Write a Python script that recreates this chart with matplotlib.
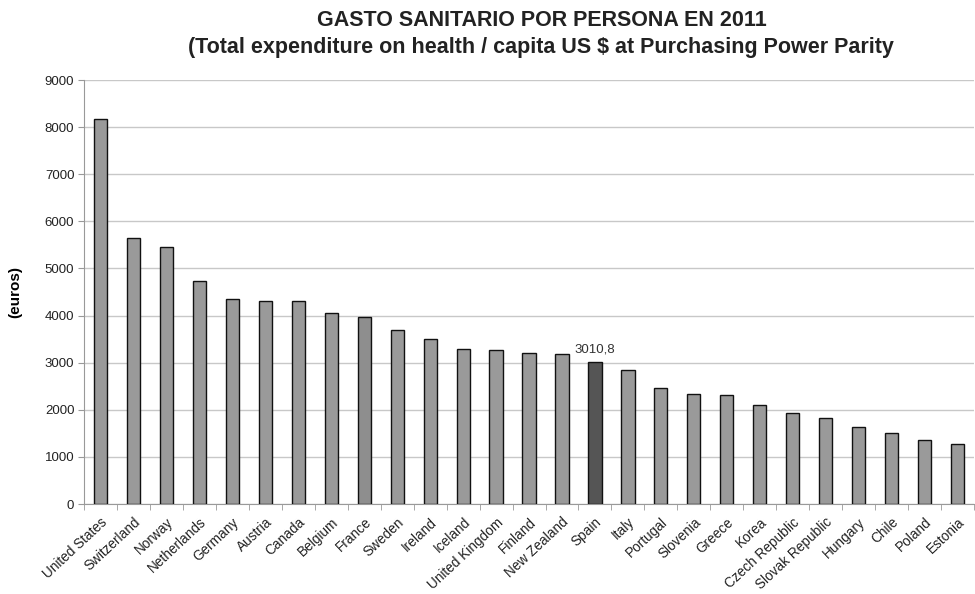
import matplotlib
matplotlib.use("Agg")
import matplotlib.pyplot as plt
import numpy as np

countries = ["United States", "Switzerland", "Norway", "Netherlands", "Germany", "Austria",
             "Canada", "Belgium", "France", "Sweden", "Ireland", "Iceland", "United Kingdom",
             "Finland", "New Zealand", "Spain", "Italy", "Portugal", "Slovenia", "Greece",
             "Korea", "Czech Republic", "Slovak Republic", "Hungary", "Chile", "Poland", "Estonia"]
values = [8175, 5648, 5463, 4741, 4352, 4317, 4310, 4062, 3963, 3694, 3510, 3298, 3277,
          3213, 3178, 3010.8, 2852, 2470, 2328, 2321, 2095, 1925, 1826, 1635, 1507, 1352, 1281]
yticks = list(range(0, 10000, 1000))
highlight = "Spain"
highlight_label = "3010,8"

plt.rcParams['font.family'] = ['Liberation Sans', 'DejaVu Sans']

fig = plt.figure(figsize=(9.75, 5.94), dpi=100)
ax = fig.add_axes([0.0862, 0.1515, 0.9128, 0.7138])

x = np.arange(len(countries))
colors = ["#555555" if c == highlight else ("#8e8e8e" if c == "France" else "#9a9a9a") for c in countries]
ax.bar(x, values, width=0.4, color=colors, edgecolor="#111111", linewidth=1.0, zorder=3)

ax.set_xlim(-0.5, len(countries) - 0.5)
ax.set_ylim(0, 9000)
ax.set_yticks(yticks)
ax.set_yticklabels([str(t) for t in yticks], fontsize=9.5, color="#222222")
ax.yaxis.grid(True, color="#c8c8c8", linewidth=1.0, zorder=0)
ax.set_axisbelow(True)

ax.set_xticks(x)
ax.set_xticklabels(countries, rotation=43, ha="right", rotation_mode="anchor", fontsize=9.8, color="#222222")
ax.tick_params(axis="x", length=0, pad=8)
ax.set_xticks(np.arange(-0.5, len(countries), 1), minor=True)
ax.tick_params(axis="x", which="minor", length=4, color="#999999", direction="out")
ax.tick_params(axis="y", length=4, color="#999999", direction="out", pad=3)

for s in ["top", "right"]:
    ax.spines[s].set_visible(False)
ax.spines["left"].set_color("#999999")
ax.spines["bottom"].set_color("#999999")

si = countries.index(highlight)
ax.annotate(highlight_label, (si, values[si]), xytext=(0, 5), textcoords="offset points",
            ha="center", va="bottom", fontsize=9.5, color="#333333")

ax.set_ylabel("(euros)", fontsize=11, fontweight="bold", labelpad=16)

fig.text(0.556, 0.966, "GASTO SANITARIO POR PERSONA EN 2011", ha="center", va="center",
         fontsize=15.5, fontweight="bold", color="#222222")
fig.text(0.555, 0.92, "(Total expenditure on health / capita US $ at Purchasing Power Parity",
         ha="center", va="center", fontsize=15.5, fontweight="bold", color="#222222")

fig.savefig("out.png", dpi=100)
